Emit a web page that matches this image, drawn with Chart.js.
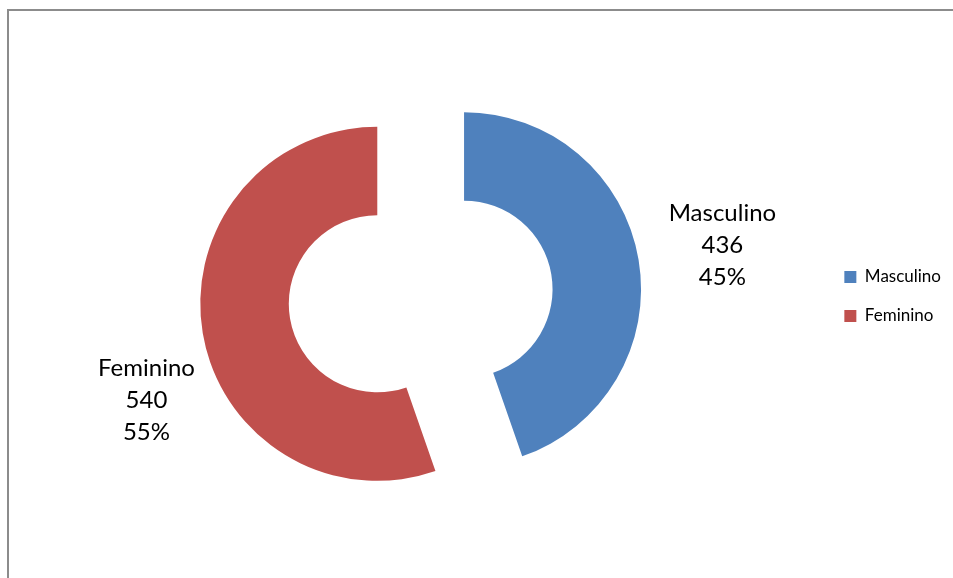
<!doctype html>
<html lang="pt">
<head>
    <meta charset="utf-8">
    <title>Masculino x Feminino</title>
    <style>
        html, body { margin: 0; padding: 0; background: #fff; overflow: hidden; }
        #chartBox { position: absolute; left: 0; top: 0; width: 953px; height: 578px; }
        /* moldura cinza do gráfico (só topo e esquerda aparecem) */
        #frame {
            position: absolute; left: 7px; top: 9px; right: -20px; bottom: -20px;
            border-left: 2px solid #8c8c8c; border-top: 2px solid #8c8c8c;
            pointer-events: none;
        }
    </style>
    <script src="https://cdn.jsdelivr.net/npm/chart.js"></script>
</head>
<body>
<div id="chartBox"><canvas id="myDoughnut"></canvas></div>
<div id="frame"></div>

<script>
    const categories = ['Masculino', 'Feminino'];
    const counts = [436, 540];
    const colors = ['#4F81BD', '#C0504D'];

    // posição dos rótulos: distância a partir do centro da fatia e ajuste de ângulo (graus)
    const labelDistance = [262, 250];
    const labelAngleShift = [0, -13];
    const explode = 44;

    const total = counts.reduce((a, b) => a + b, 0);

    // desenha cada fatia deslocada para fora (explodida)
    const explodePlugin = {
        id: 'explode',
        beforeDatasetDraw(chart, args) {
            const ctx = chart.ctx;
            args.meta.data.forEach(arc => {
                const mid = (arc.startAngle + arc.endAngle) / 2;
                ctx.save();
                ctx.translate(Math.cos(mid) * explode, Math.sin(mid) * explode);
                arc.draw(ctx, chart.chartArea);
                ctx.restore();
            });
            return false;
        }
    };

    // rótulos: categoria, valor e percentual
    const labelPlugin = {
        id: 'sliceLabels',
        afterDatasetsDraw(chart) {
            const ctx = chart.ctx;
            const meta = chart.getDatasetMeta(0);
            ctx.save();
            ctx.font = '24px Lato';
            ctx.fillStyle = '#000';
            ctx.textAlign = 'center';
            ctx.textBaseline = 'middle';
            meta.data.forEach((arc, i) => {
                const mid = (arc.startAngle + arc.endAngle) / 2;
                const cx = arc.x + Math.cos(mid) * explode;
                const cy = arc.y + Math.sin(mid) * explode;
                const a = mid + labelAngleShift[i] * Math.PI / 180;
                const lx = cx + Math.cos(a) * labelDistance[i];
                const ly = cy + Math.sin(a) * labelDistance[i];
                const pct = Math.round(counts[i] / total * 100) + '%';
                const lines = [categories[i], String(counts[i]), pct];
                lines.forEach((t, k) => ctx.fillText(t, lx, ly + (k - 1) * 32));
            });
            ctx.restore();
        }
    };

    const ctx = document.getElementById('myDoughnut').getContext('2d');
    new Chart(ctx, {
        type: 'doughnut',
        data: {
            labels: categories,
            datasets: [{
                data: counts,
                backgroundColor: colors,
                borderWidth: 0
            }]
        },
        options: {
            responsive: true,
            maintainAspectRatio: false,
            animation: false,
            radius: 177,
            cutout: '50%',
            layout: { padding: { left: 19, right: 2, top: 20, bottom: 5 } },
            plugins: {
                tooltip: { enabled: false },
                legend: {
                    position: 'right',
                    labels: {
                        boxWidth: 12,
                        boxHeight: 12,
                        padding: 22,
                        color: '#000',
                        font: { family: 'Lato', size: 17 }
                    }
                }
            }
        },
        plugins: [explodePlugin, labelPlugin]
    });
</script>
</body>
</html>
